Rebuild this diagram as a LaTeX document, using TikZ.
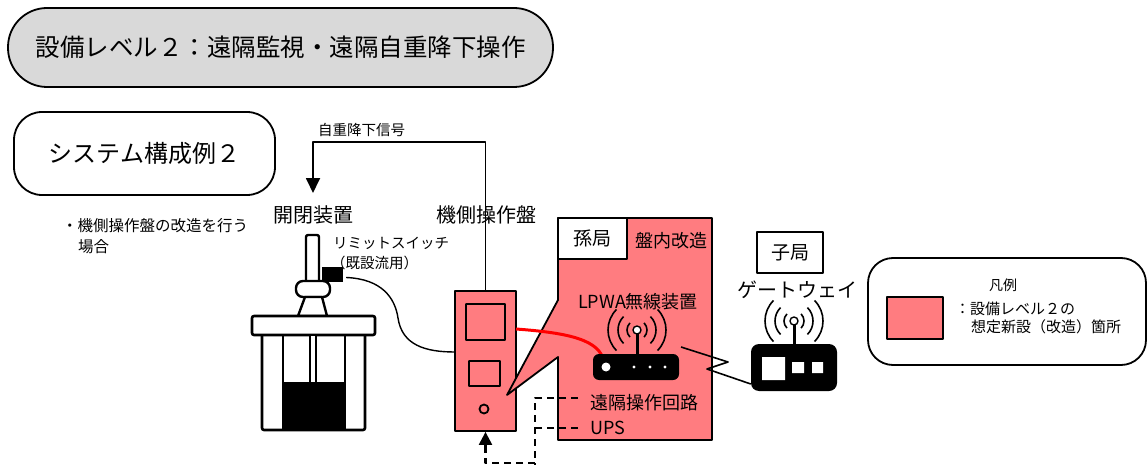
\documentclass[tikz,border=0pt]{standalone}
\usepackage{fontspec}
\setmainfont{Noto Sans CJK JP}
\usepackage{tikz}
\usetikzlibrary{arrows.meta, calc, positioning}
\definecolor{kaizored}{HTML}{FF7C80}
\definecolor{titlegray}{HTML}{D9D9D9}
\newcommand{\jsize}[1]{\fontsize{#1}{#1}\selectfont}
% three pairs of arcs round an antenna tip
\newcommand{\radiowaves}[1]{%
  \foreach \rad in {10,19,29} {
    \draw[line width=1.6pt] (#1) ++(135:\rad) arc (135:225:\rad);
    \draw[line width=1.6pt] (#1) ++(45:\rad) arc (45:-45:\rad);
  }}

\begin{document}
\begin{tikzpicture}[x=1pt, y=-1pt, line join=round,
  every node/.style={font=\jsize{14.5}},
  box/.style={draw, line width=1.8pt, inner sep=0pt},
  dashline/.style={dashed, dash pattern=on 7pt off 5pt, line width=2.2pt}]
  \useasboundingbox (0,0) rectangle (1147,465);

  % headings
  \node[box, fill=titlegray, rounded corners=39pt, minimum width=545pt, minimum height=79pt, font=\jsize{24.5}] (title) at (280.5,47.5) {設備レベル２：遠隔監視・遠隔自重降下操作};
  \node[box, fill=white, rounded corners=28pt, minimum width=261pt, minimum height=83pt, font=\jsize{24}] (case) at (144.5,153.5) {システム構成例２};
  \node[anchor=west, inner sep=0pt, font=\jsize{15.5}] (note1) at (62,226) {・機側操作盤の改造を行う};
  \node[anchor=west, inner sep=0pt, font=\jsize{15.5}] (note2) at (78,247) {場合};

  % gate
  \node[font=\jsize{20}] (gatelbl) at (313,215) {開閉装置};
  \draw[line width=2.4pt, fill=white, rounded corners=2pt] (306,235) rectangle (319,284);
  \node[fill=black, minimum width=21pt, minimum height=15pt, inner sep=0pt] (lsw) at (332.5,274.5) {};
  \draw[line width=2.4pt, fill=white, rounded corners=7pt] (296,281) rectangle (330,297);
  \draw[line width=2.4pt, fill=white] (305,297) -- (322,297) -- (327,316) -- (298,316) -- cycle;
  \draw[line width=2.6pt, fill=white, rounded corners=2pt] (252,316) rectangle (375,335);
  \fill (283,382) rectangle (345,430);
  \draw[line width=2.6pt, rounded corners=2pt] (262,335) -- (262,430) -- (365,430) -- (365,335);
  \draw[line width=2.6pt] (283,335) -- (283,430) (345,335) -- (345,430);
  \draw[line width=1.8pt, fill=white] (310,335) rectangle (316,383);
  \node[anchor=west, inner sep=0pt] (lswlbl1) at (333,243) {リミットスイッチ};
  \node[anchor=west, inner sep=0pt] (lswlbl2) at (331,263) {（既設流用）};

  % local panel
  \node[font=\jsize{20}] (panellbl) at (486,215) {機側操作盤};
  \node[box, fill=kaizored, minimum width=61pt, minimum height=140pt] (panel) at (485.5,361) {};
  \draw[line width=1.8pt] (466,304) rectangle (505,340) (469,361) rectangle (500,386) (484,409) circle (4.5);

  \coordinate (gatein) at (313,193);
  \draw[line width=1.8pt, -{Triangle[width=14pt,length=15pt]}] (panel.north) |- (gatein |- 0,142) -- (gatein);
  \node[anchor=west, inner sep=0pt] (siglbl) at (318,130) {自重降下信号};

  \coordinate (pin) at (455,352);
  \draw[line width=1.4pt] ($(lsw.east)+(3,3)$) .. controls (382,279) and (395,298) .. (398,318) .. controls (402,345) and (425,352) .. (pin);

  % modified part inside the panel
  \draw[line width=1.8pt, fill=kaizored] (558,218) -- (712,218) -- (712,440) -- (558,440) -- (558,357) -- (507,395) -- (558,300) -- cycle;
  \node[box, fill=white, minimum width=69pt, minimum height=41pt, font=\jsize{19}] (mago) at (592.5,238.5) {孫局};
  \node[font=\jsize{18}] (kaizo) at (671,241) {盤内改造};
  \node[font=\jsize{18}] (lpwalbl) at (638,302) {LPWA無線装置};

  \coordinate (cab) at (516,329);
  \draw[red, line width=3pt] (cab) .. controls (570,333) and (600,340) .. (604,362);

  \node[fill=black, rounded corners=6pt, minimum width=86pt, minimum height=26pt, inner sep=0pt] (router) at (636,367) {};
  \fill[white] (606,367) circle (4.5) (634,367) circle (1.6) (650,367) circle (1.6) (665,367) circle (1.6);
  \draw[line width=3pt] (router.north -| 637,0) -- (637,333);
  \draw[line width=1.4pt, fill=white] (637,330) circle (4);
  \radiowaves{637,330}

  % gateway
  \node[box, fill=white, minimum width=66pt, minimum height=41pt, font=\jsize{19}] (ko) at (790,252.5) {子局};
  \node[font=\jsize{20}] (gwlbl) at (797,290) {ゲートウェイ};
  \node[fill=black, rounded corners=8pt, minimum width=86pt, minimum height=47pt, inner sep=0pt] (gw) at (794,367.5) {};
  \fill[white] (762,357) rectangle (785,380) (792,362) rectangle (804,373) (812,362) rectangle (823,373);
  \draw[line width=3pt] (gw.north -| 794,0) -- (794,324);
  \draw[line width=1.4pt, fill=white] (794,321) circle (4);
  \radiowaves{794,321}

  \coordinate (zz) at (681,347);
  \draw[line width=1.6pt] (zz) -- ++(47,15) -- ++(-21,7) -- (gw.west |- 0,384);

  % remote circuit and UPS
  \node[anchor=west, inner xsep=12pt, inner ysep=0pt, font=\jsize{18}] (remote) at (578,403) {遠隔操作回路};
  \node[anchor=west, inner xsep=12pt, inner ysep=0pt, font=\jsize{18}] (ups) at (578,428) {UPS};
  \draw[dashline] ($(remote.west)+(0,-5)$) -- (535,398) -- (535,470);
  \draw[dashline] (ups.west) -- (535,428);
  \draw[dashline] (535,463) -- (panel.south |- 0,463) -- ($(panel.south)+(0,14)$);
  \draw[line width=2.2pt, -{Triangle[width=13pt,length=13pt]}] ($(panel.south)+(0,14)$) -- (panel.south);

  % legend
  \node[box, rounded corners=25pt, minimum width=278pt, minimum height=107pt] (legend) at (1007,311.5) {};
  \node[font=\jsize{14}] (legendttl) at (1003,285) {凡例};
  \node[box, fill=kaizored, minimum width=56pt, minimum height=42pt] (swatch) at (915,318) {};
  \node[anchor=west, inner sep=0pt, font=\jsize{15}] (legend1) at (955,309) {：設備レベル２の};
  \node[anchor=west, inner sep=0pt, font=\jsize{15}] (legend2) at (971,327) {想定新設（改造）箇所};
\end{tikzpicture}
\end{document}
